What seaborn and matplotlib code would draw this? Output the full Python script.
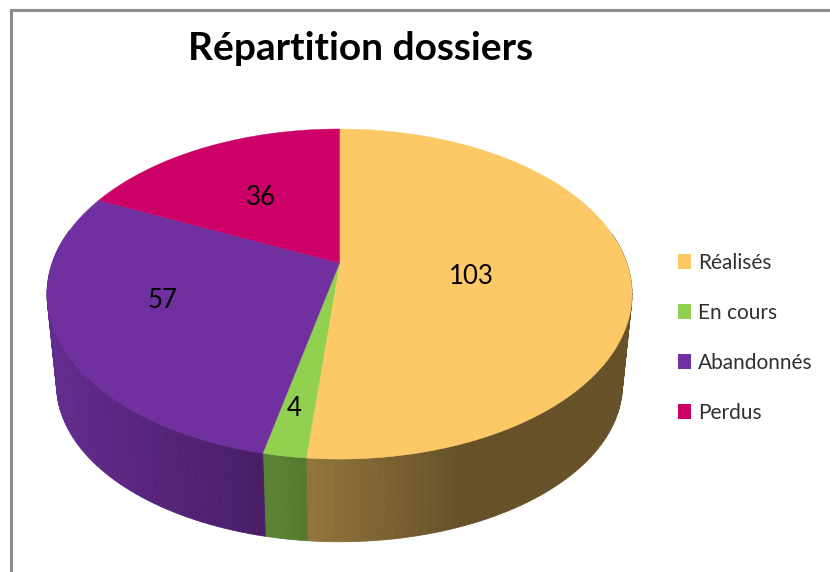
import numpy as np
import matplotlib
matplotlib.use("Agg")
import matplotlib.pyplot as plt
from matplotlib.patches import Patch
import seaborn as sns

# Data
categories = ["Réalisés", "En cours", "Abandonnés", "Perdus"]
values = [103, 4, 57, 36]
title = "Répartition dossiers"

colors = sns.color_palette(["#FCC966", "#92D050", "#7030A0", "#CC0066"])

sns.set_theme(style="white")
plt.rcParams["font.family"] = ["Lato", "DejaVu Sans"]

fig, ax = plt.subplots(figsize=(8.3, 5.72), dpi=100)
ax.set_position([0, 0, 1, 1])
ax.set_xlim(0, 830)
ax.set_ylim(572, 0)
ax.axis("off")


# perspective of the disc, t is the clockwise angle from the top
def project(t, scale_x=1.0, scale_y=1.0, cy=263.0):
    u, v = np.sin(t), np.cos(t)
    d = 1 + 0.188 * v
    return 339.5 + 287.3 * scale_x * u / d, cy - 159.2 * scale_y * v / d


def wall_shade(x):
    return max(0.405, 0.88 - 0.00118 * (x - 57))


edges = np.concatenate([[0], np.cumsum(values)]) / np.sum(values) * 2 * np.pi

# Side wall, only the front part shows
for i, col in enumerate(colors):
    n = max(4, int((edges[i + 1] - edges[i]) / 0.025))
    ts = np.linspace(edges[i], edges[i + 1], n + 1)
    for t0, t1 in zip(ts[:-1], ts[1:]):
        if np.cos((t0 + t1) / 2) > 0.2:
            continue
        x0, y0 = project(t0)
        x1, y1 = project(t1)
        x2, y2 = project(t1, 0.967, 0.95, 355.5)
        x3, y3 = project(t0, 0.967, 0.95, 355.5)
        c = np.array(col) * wall_shade((x0 + x1) / 2)
        ax.fill([x0, x1, x2, x3], [y0, y1, y2, y3], color=c, lw=0.6, zorder=2)

# Top of the pie
for i, col in enumerate(colors):
    ts = np.linspace(edges[i], edges[i + 1], 200)
    xs, ys = project(ts)
    ax.fill(np.r_[339.5, xs], np.r_[263.0, ys], color=col, lw=0.3, zorder=3)

# Value labels
label_pos = [(471, 276), (294, 408), (163, 300.5), (261, 197.5)]
for val, (x, y) in zip(values, label_pos):
    ax.text(x, y, str(val), ha="center", va="center", fontsize=18.5, color="black", zorder=4)

ax.text(360.5, 49, title, ha="center", va="center", fontsize=28, fontweight="bold", color="black")

# Legend
handles = [Patch(facecolor=c, edgecolor="none", label=n) for c, n in zip(colors, categories)]
ax.legend(handles=handles, loc="upper left", bbox_to_anchor=(672 / 830, 1 - 246.5 / 572), frameon=False,
          fontsize=15, labelcolor="#303030", handlelength=0.625, handleheight=0.77, handletextpad=0.34,
          labelspacing=1.44, borderpad=0.3, borderaxespad=0)

# Chart frame, cut by the screenshot on the right and bottom
ax.plot([11, 11, 830], [572, 10, 10], color="#8c8c8c", lw=2.2, solid_joinstyle="miter", zorder=1)

fig.savefig("out.png", dpi=100)
